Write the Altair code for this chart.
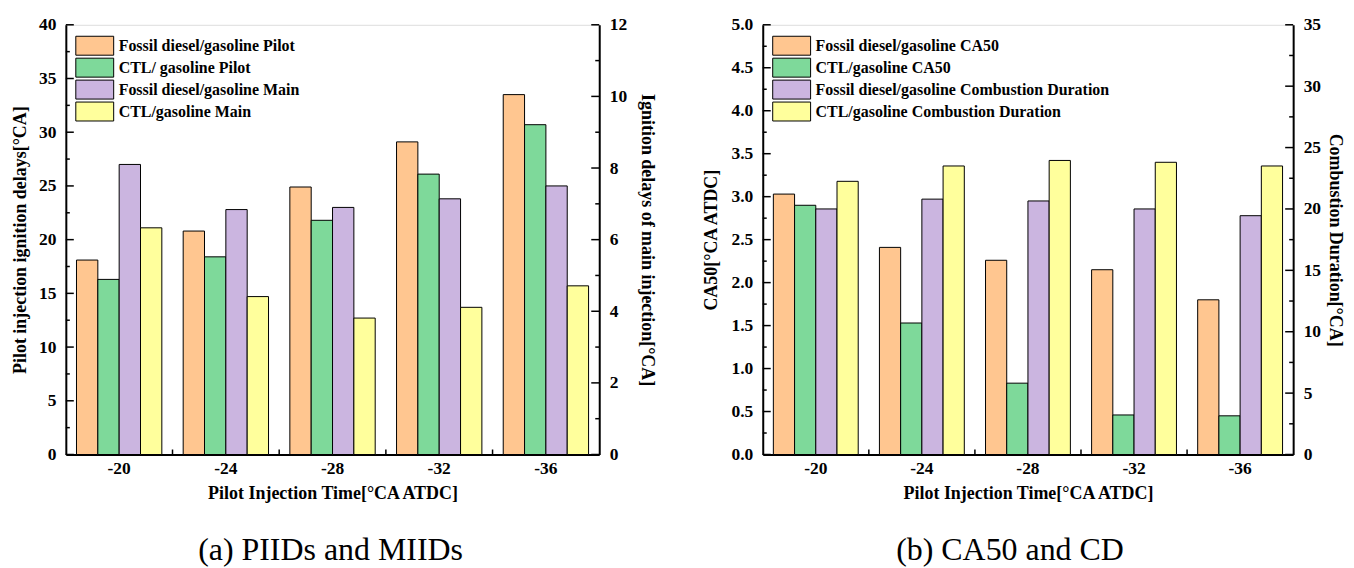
import altair as alt
import pandas as pd

times = ["-20", "-24", "-28", "-32", "-36"]

# Panel (a)
fossil_pilot = [18.1, 20.8, 24.9, 29.1, 33.5]
ctl_pilot = [16.3, 18.4, 21.8, 26.1, 30.7]
fossil_main = [8.1, 6.84, 6.9, 7.14, 7.5]
ctl_main = [6.33, 4.41, 3.81, 4.11, 4.71]
series_a = ["Fossil diesel/gasoline Pilot", "CTL/ gasoline Pilot",
            "Fossil diesel/gasoline Main", "CTL/gasoline Main"]

# Panel (b)
fossil_ca50 = [3.03, 2.41, 2.26, 2.15, 1.80]
ctl_ca50 = [2.90, 1.53, 0.83, 0.46, 0.45]
fossil_cd = [20.0, 20.8, 20.65, 20.0, 19.45]
ctl_cd = [22.25, 23.5, 23.95, 23.8, 23.5]
series_b = ["Fossil diesel/gasoline CA50", "CTL/gasoline CA50",
            "Fossil diesel/gasoline Combustion Duration", "CTL/gasoline Combustion Duration"]

colors = ["#FFC690", "#7ED99A", "#CBB5E0", "#FFFF9C"]

# axis tick values (major, minor)
left_major_a = [0, 5, 10, 15, 20, 25, 30, 35, 40]
left_minor_a = [2.5, 7.5, 12.5, 17.5, 22.5, 27.5, 32.5, 37.5]
right_major_a = [0, 2, 4, 6, 8, 10, 12]
right_minor_a = [1, 3, 5, 7, 9, 11]
left_major_b = [0, 0.5, 1.0, 1.5, 2.0, 2.5, 3.0, 3.5, 4.0, 4.5, 5.0]
left_minor_b = [0.25, 0.75, 1.25, 1.75, 2.25, 2.75, 3.25, 3.75, 4.25, 4.75]
right_major_b = [0, 5, 10, 15, 20, 25, 30, 35]
right_minor_b = [2.5, 7.5, 12.5, 17.5, 22.5, 27.5, 32.5]

FONT = "Liberation Serif"
H = 431


def long_df(series, arrays, side):
    rows = []
    for s, arr, sd in zip(series, arrays, side):
        for t, v in zip(times, arr):
            rows.append({"time": t, "series": s, "value": v, "side": sd})
    return pd.DataFrame(rows)


def label_axis(orient, title, values, fmt, tpad):
    return alt.Axis(
        orient=orient, title=title, values=values, format=fmt,
        ticks=False,
        labelOverlap=False, labelFlush=False,
        grid=False, domainColor="black", domainWidth=2,
        labelFont=FONT, labelFontSize=17.5, labelFontWeight="bold", labelColor="black",
        labelPadding=10,
        titleFont=FONT, titleFontSize=18, titleFontWeight="bold", titleColor="black",
        titlePadding=tpad,
    )


def tick_layer(values, dom, x0, x1):
    # inward axis ticks, positioned through the same y scale as the bars
    return alt.Chart(pd.DataFrame({"v": values})).mark_rule(
        color="black", strokeWidth=1.5).encode(
        y=alt.Y("v:Q", scale=alt.Scale(domain=dom, nice=False), axis=None),
        x=alt.value(x0), x2=alt.value(x1))


def panel(df, series, left_title, right_title, left_dom, right_dom,
          lmaj, lmin, rmaj, rmin, lfmt, rfmt, caption, w, cap_dx, ltp, rtp):
    xscale = alt.Scale(paddingInner=0.2, paddingOuter=0.1)
    base = alt.Chart(df).encode(
        xOffset=alt.XOffset("series:N", scale=alt.Scale(domain=series)),
        color=alt.Color("series:N",
                        scale=alt.Scale(domain=series, range=colors),
                        legend=alt.Legend(title=None, orient="none",
                                          legendX=19, legendY=11,
                                          symbolType="M-2,-1L2,-1L2,1L-2,1Z",
                                          symbolSize=361, symbolStrokeColor="black",
                                          symbolStrokeWidth=1, symbolOpacity=1,
                                          labelOffset=14,
                                          labelFont=FONT, labelFontSize=16,
                                          labelFontWeight="bold", labelColor="black",
                                          labelLimit=500, rowPadding=-6.5, padding=0)),
    )
    x_main = alt.X("time:N", sort=times, scale=xscale,
                   axis=alt.Axis(title="Pilot Injection Time[°CA ATDC]", labelAngle=0,
                                 ticks=False,
                                 domainColor="black", domainWidth=2,
                                 labelFont=FONT, labelFontSize=17.5, labelFontWeight="bold",
                                 labelColor="black", labelPadding=5,
                                 titleFont=FONT, titleFontSize=18, titleFontWeight="bold",
                                 titleColor="black", titlePadding=8))

    bar = dict(stroke="black", strokeWidth=1, opacity=1)
    left_data = base.transform_filter(alt.datum.side == "L").mark_bar(**bar)
    right_data = base.transform_filter(alt.datum.side == "R").mark_bar(**bar)

    ls = alt.Scale(domain=left_dom, nice=False)
    rs = alt.Scale(domain=right_dom, nice=False)

    # ticks between the groups, at the end of each band plus half the gap
    xticks = alt.Chart(pd.DataFrame({"time": times[:-1]})).mark_rule(
        color="black", strokeWidth=1.5, xOffset=w / 50).encode(
        x=alt.X("time:N", sort=times, scale=xscale, axis=None, bandPosition=1),
        y=alt.value(H), y2=alt.value(H - 5))

    layers = [
        left_data.encode(x=x_main, y=alt.Y("value:Q", scale=ls,
                         axis=label_axis("left", left_title, lmaj, lfmt, ltp))),
        right_data.encode(x=alt.X("time:N", sort=times, scale=xscale, axis=None),
                          y=alt.Y("value:Q", scale=rs,
                                  axis=label_axis("right", right_title, rmaj, rfmt, rtp))),
        tick_layer(lmaj, left_dom, 0, 8),
        tick_layer(lmin, left_dom, 0, 4),
        tick_layer(rmaj, right_dom, w, w - 8),
        tick_layer(rmin, right_dom, w, w - 4),
        xticks,
    ]
    return alt.layer(*layers).resolve_scale(
        y="independent", xOffset="independent").resolve_axis(x="independent").properties(
        width=w, height=H,
        title=alt.TitleParams(caption, orient="bottom", font=FONT, fontSize=32,
                              fontWeight="normal", color="black", offset=32,
                              anchor="middle", frame="group", dx=cap_dx),
    )


df_a = long_df(series_a, [fossil_pilot, ctl_pilot, fossil_main, ctl_main], ["L", "L", "R", "R"])
df_b = long_df(series_b, [fossil_ca50, ctl_ca50, fossil_cd, ctl_cd], ["L", "L", "R", "R"])

pa = panel(df_a, series_a, "Pilot injection ignition delays[°CA]",
           "Ignition delays  of main injection[°CA]", [0, 40], [0, 12],
           left_major_a, left_minor_a, right_major_a, right_minor_a, "d", "d",
           "(a) PIIDs and MIIDs", 535, -2, 9, 11)
pb = panel(df_b, series_b, "CA50[°CA ATDC]", "Combustion Duration[°CA]", [0, 5], [0, 35],
           left_major_b, left_minor_b, right_major_b, right_minor_b, ".1f", "d",
           "(b) CA50 and CD", 532, -18, 11, 5)

chart = alt.hconcat(pa, pb, spacing=45).resolve_scale(color="independent").resolve_legend(
    color="independent").configure_view(stroke="black", strokeWidth=2).configure(
    background="white", padding={"left": 3, "top": 6, "right": 2, "bottom": 0})

chart.save("out.html", embed_options={"renderer": "svg", "actions": False})
